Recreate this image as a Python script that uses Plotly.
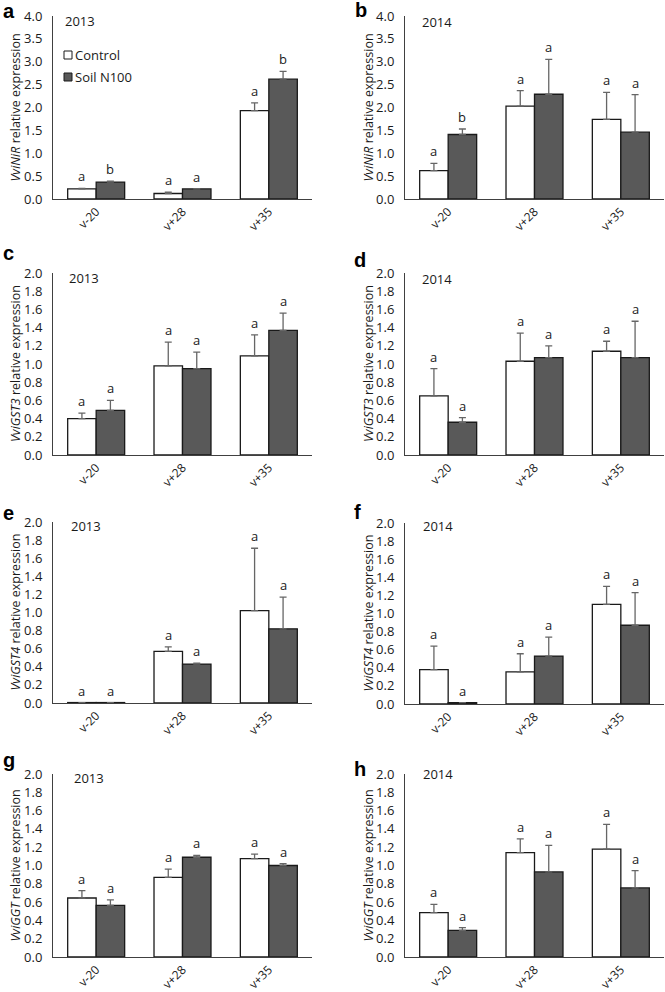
import plotly.graph_objects as go

W, H = 665, 992

categories = ["v-20", "v+28", "v+35"]
panel_letters = ["a", "b", "c", "d", "e", "f", "g", "h"]
genes = ["VviNiR", "VviNiR", "VviGST3", "VviGST3", "VviGST4", "VviGST4", "VviGGT", "VviGGT"]
years = ["2013", "2014", "2013", "2014", "2013", "2014", "2013", "2014"]
series_names = ["Control", "Soil N100"]

# values / errors / significance letters per panel
a_ctrl = [0.22, 0.12, 1.93]; a_ctrl_err = [0.01, 0.03, 0.17]; a_ctrl_sig = ["a", "a", "a"]
a_n100 = [0.37, 0.22, 2.62]; a_n100_err = [0.02, 0.005, 0.17]; a_n100_sig = ["b", "a", "b"]

b_ctrl = [0.62, 2.03, 1.74]; b_ctrl_err = [0.16, 0.34, 0.59]; b_ctrl_sig = ["a", "a", "a"]
b_n100 = [1.41, 2.29, 1.46]; b_n100_err = [0.12, 0.76, 0.82]; b_n100_sig = ["b", "a", "a"]

c_ctrl = [0.40, 0.98, 1.09]; c_ctrl_err = [0.06, 0.26, 0.23]; c_ctrl_sig = ["a", "a", "a"]
c_n100 = [0.49, 0.95, 1.37]; c_n100_err = [0.11, 0.18, 0.19]; c_n100_sig = ["a", "a", "a"]

d_ctrl = [0.65, 1.03, 1.14]; d_ctrl_err = [0.30, 0.31, 0.11]; d_ctrl_sig = ["a", "a", "a"]
d_n100 = [0.36, 1.07, 1.07]; d_n100_err = [0.05, 0.13, 0.40]; d_n100_sig = ["a", "a", "a"]

e_ctrl = [0.005, 0.57, 1.02]; e_ctrl_err = [0.0, 0.05, 0.69]; e_ctrl_sig = ["a", "a", "a"]
e_n100 = [0.005, 0.43, 0.82]; e_n100_err = [0.0, 0.01, 0.35]; e_n100_sig = ["a", "a", "a"]

f_ctrl = [0.38, 0.355, 1.10]; f_ctrl_err = [0.26, 0.20, 0.20]; f_ctrl_sig = ["a", "a", "a"]
f_n100 = [0.015, 0.53, 0.87]; f_n100_err = [0.0, 0.21, 0.36]; f_n100_sig = ["a", "a", "a"]

g_ctrl = [0.645, 0.87, 1.075]; g_ctrl_err = [0.08, 0.09, 0.05]; g_ctrl_sig = ["a", "a", "a"]
g_n100 = [0.565, 1.09, 1.00]; g_n100_err = [0.06, 0.02, 0.02]; g_n100_sig = ["a", "a", "a"]

h_ctrl = [0.485, 1.14, 1.18]; h_ctrl_err = [0.09, 0.15, 0.27]; h_ctrl_sig = ["a", "a", "a"]
h_n100 = [0.29, 0.93, 0.755]; h_n100_err = [0.03, 0.29, 0.19]; h_n100_sig = ["a", "a", "a"]

ctrl_vals = [a_ctrl, b_ctrl, c_ctrl, d_ctrl, e_ctrl, f_ctrl, g_ctrl, h_ctrl]
ctrl_errs = [a_ctrl_err, b_ctrl_err, c_ctrl_err, d_ctrl_err, e_ctrl_err, f_ctrl_err, g_ctrl_err, h_ctrl_err]
ctrl_sigs = [a_ctrl_sig, b_ctrl_sig, c_ctrl_sig, d_ctrl_sig, e_ctrl_sig, f_ctrl_sig, g_ctrl_sig, h_ctrl_sig]
n100_vals = [a_n100, b_n100, c_n100, d_n100, e_n100, f_n100, g_n100, h_n100]
n100_errs = [a_n100_err, b_n100_err, c_n100_err, d_n100_err, e_n100_err, f_n100_err, g_n100_err, h_n100_err]
n100_sigs = [a_n100_sig, b_n100_sig, c_n100_sig, d_n100_sig, e_n100_sig, f_n100_sig, g_n100_sig, h_n100_sig]
y_max = [4.0, 4.0, 2.0, 2.0, 2.0, 2.0, 2.0, 2.0]
y_step = [0.5, 0.5, 0.2, 0.2, 0.2, 0.2, 0.2, 0.2]

# ---- layout geometry (pixels) ----
panel_px = [  # x0, x1, top, bottom
    (53, 312, 16, 199), (405, 664, 16, 199),
    (53, 312, 273, 455), (405, 664, 273, 455),
    (53, 312, 522, 703), (405, 664, 523, 704),
    (53, 312, 774, 957), (405, 664, 774, 957),
]
letter_px = [(1, 19), (353, 18), (1, 261), (352, 268), (1, 521), (352, 520), (1, 768), (352, 777)]
year_px = [(63, 21), (420, 22), (67, 278), (420, 279), (69, 526), (421, 526), (72, 778), (421, 774)]
ytitle_x = [15, 368]

def px(x):
    return x / W

def py(y):
    return 1 - y / H

FONT = "Open Sans"
TXT = "#1a1a1a"
CTRL_FILL = "#ffffff"
N100_FILL = "#595959"
EDGE = "#1a1a1a"
ERRC = "#666666"
BARGAP = 0.34

fig = go.Figure()
annotations = []
shapes = []

for i in range(8):
    x0, x1, top, bot = panel_px[i]
    ax = "" if i == 0 else str(i + 1)
    xa, ya = "x" + ax, "y" + ax
    for name, vals, errs, fill in [
        (series_names[0], ctrl_vals[i], ctrl_errs[i], CTRL_FILL),
        (series_names[1], n100_vals[i], n100_errs[i], N100_FILL),
    ]:
        fig.add_trace(go.Bar(
            x=categories, y=vals, name=name, showlegend=False,
            marker=dict(color=fill, line=dict(color=EDGE, width=1.3)),
            error_y=dict(type="data", array=errs, arrayminus=[0] * len(errs),
                         symmetric=False, color=ERRC, thickness=1.3, width=3.5),
            xaxis=xa, yaxis=ya,
        ))
    fig.layout["xaxis" + ax] = dict(
        domain=[px(x0), px(x1)], anchor=ya, showline=True, linecolor="#404040",
        linewidth=1, ticks="", tickangle=-45, tickfont=dict(family=FONT, size=12, color=TXT),
        showgrid=False, zeroline=False, fixedrange=True, automargin=False,
    )
    fig.layout["yaxis" + ax] = dict(
        domain=[py(bot), py(top)], anchor=xa, range=[0, y_max[i]], dtick=y_step[i],
        tick0=0, tickformat=".1f", showline=True, linecolor="#404040", linewidth=1,
        ticks="", ticklabelstandoff=7, tickfont=dict(family=FONT, size=13, color=TXT),
        showgrid=False, zeroline=False, fixedrange=True, automargin=False,
    )
    cat_w = (x1 - x0) / len(categories)
    bar_w = cat_w * (1 - BARGAP) / 2
    for vals, errs, sigs, sgn in [
        (ctrl_vals[i], ctrl_errs[i], ctrl_sigs[i], -1),
        (n100_vals[i], n100_errs[i], n100_sigs[i], 1),
    ]:
        for c, v, e, s in zip(categories, vals, errs, sigs):
            annotations.append(dict(
                x=c, y=v + e, xref=xa, yref=ya, text=s, showarrow=False,
                xshift=sgn * bar_w / 2, yanchor="bottom", yshift=1,
                font=dict(family=FONT, size=13, color=TXT),
            ))
    lx, ly = letter_px[i]
    annotations.append(dict(
        x=px(lx), y=py(ly), xref="paper", yref="paper", text="<b>%s</b>" % panel_letters[i],
        showarrow=False, xanchor="left", yanchor="bottom", yshift=-5,
        font=dict(family="Liberation Sans", size=20, color="#000000"),
    ))
    yx, yy = year_px[i]
    annotations.append(dict(
        x=px(yx), y=py(yy), xref="paper", yref="paper", text=years[i],
        showarrow=False, xanchor="left", yanchor="middle",
        font=dict(family=FONT, size=13, color=TXT),
    ))
    annotations.append(dict(
        x=px(ytitle_x[i % 2]), y=py((top + bot) / 2), xref="paper", yref="paper",
        text="<i>%s</i> relative expression" % genes[i], textangle=-90,
        showarrow=False, xanchor="center", yanchor="middle",
        font=dict(family=FONT, size=12.5, color=TXT),
    ))

# manual legend in panel a
legend_items = [(series_names[0], CTRL_FILL, 55), (series_names[1], N100_FILL, 77)]
for name, fill, cy in legend_items:
    shapes.append(dict(type="rect", xref="paper", yref="paper",
                       x0=px(64), x1=px(72), y0=py(cy + 4), y1=py(cy - 4),
                       fillcolor=fill, line=dict(color=EDGE, width=1)))
    annotations.append(dict(x=px(73), y=py(cy), xref="paper", yref="paper", text=name,
                            showarrow=False, xanchor="left", yanchor="middle",
                            font=dict(family=FONT, size=13, color=TXT)))

fig.update_layout(
    width=W, height=H, margin=dict(l=0, r=0, t=0, b=0, autoexpand=False),
    paper_bgcolor="white", plot_bgcolor="white",
    barmode="group", bargap=BARGAP, bargroupgap=0,
    annotations=annotations, shapes=shapes, showlegend=False,
)

fig.write_html(
    "out.html",
    config={"displayModeBar": False, "staticPlot": True},
    post_script="document.body.style.margin='0';document.body.style.padding='0';",
)
